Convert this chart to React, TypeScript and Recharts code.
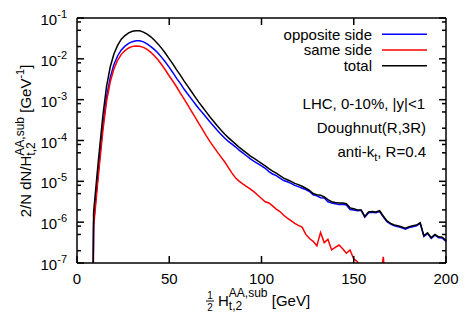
import React from 'react'
import { LineChart, Line, XAxis, YAxis } from 'recharts'

// half of H_t,2 (GeV)
const energies = [
  8, 9, 10, 11, 12, 14, 16, 18, 20, 22,
  24, 26, 28, 30, 32, 34, 36, 38, 40, 42,
  44, 46, 48, 50, 52, 54, 56, 58, 60, 62,
  64, 66, 68, 70, 72, 74, 76, 78, 80, 82,
  84, 86, 88, 90, 92, 94, 96, 98, 100, 102,
  104, 106, 108, 110, 112, 114, 116, 118, 120, 122,
  124, 126, 128, 130, 132, 134, 136, 138, 140, 142,
  144, 146, 148, 150, 152, 154, 156, 158, 160, 162,
  164, 166, 168, 170, 172, 174, 176, 178, 180, 182,
  184, 186, 188, 190, 192, 194, 196, 198, 200,
]

// values as log10 of 2/N dN/dH
const totalExp = [
  -12, -5.75, -5.26, -4.77, -4.3, -3.4, -2.68, -2.2, -1.88, -1.67,
  -1.52, -1.43, -1.365, -1.325, -1.31, -1.315, -1.345, -1.395, -1.46, -1.545,
  -1.64, -1.75, -1.87, -2.0, -2.13, -2.27, -2.4, -2.54, -2.67, -2.8,
  -2.93, -3.06, -3.18, -3.3, -3.42, -3.53, -3.64, -3.74, -3.84, -3.93,
  -4.01, -4.09, -4.17, -4.24, -4.31, -4.38, -4.44, -4.5, -4.56, -4.62,
  -4.69, -4.75, -4.8, -4.86, -4.92, -4.96, -5.0, -5.05, -5.08, -5.12,
  -5.17, -5.22, -5.3, -5.33, -5.34, -5.38, -5.45, -5.5, -5.52, -5.53,
  -5.53, -5.55, -5.65, -5.67, -5.7, -5.7, -5.86, -5.75, -5.74, -5.75,
  -5.72, -5.85, -5.97, -6.03, -6.07, -6.09, -6.12, -6.15, -6.11, -6.09,
  -6.07, -6.01, -6.33, -6.26, -6.38, -6.3, -6.36, -6.37, -6.45,
]

const oppositeExp = [
  -12, -6.01, -5.52, -5.03, -4.56, -3.66, -2.94, -2.46, -2.14, -1.93,
  -1.78, -1.69, -1.62, -1.58, -1.555, -1.56, -1.585, -1.635, -1.7, -1.775,
  -1.865, -1.97, -2.085, -2.21, -2.34, -2.48, -2.6, -2.74, -2.86, -2.98,
  -3.1, -3.215, -3.32, -3.43, -3.54, -3.645, -3.75, -3.845, -3.94, -4.02,
  -4.09, -4.16, -4.24, -4.31, -4.38, -4.45, -4.51, -4.565, -4.62, -4.68,
  -4.76, -4.82, -4.86, -4.92, -4.98, -5.01, -5.05, -5.1, -5.13, -5.17,
  -5.2, -5.25, -5.33, -5.355, -5.4, -5.41, -5.5, -5.53, -5.55, -5.57,
  -5.56, -5.58, -5.69, -5.7, -5.72, -5.71, -5.88, -5.77, -5.76, -5.77,
  -5.74, -5.87, -5.99, -6.05, -6.09, -6.11, -6.14, -6.17, -6.13, -6.11,
  -6.09, -6.03, -6.35, -6.28, -6.4, -6.32, -6.38, -6.39, -6.47,
]

const sameExp = [
  -12, -6.12, -5.63, -5.14, -4.67, -3.77, -3.05, -2.57, -2.25, -2.04,
  -1.89, -1.8, -1.735, -1.695, -1.686, -1.69, -1.72, -1.77, -1.84, -1.93,
  -2.03, -2.15, -2.28, -2.42, -2.55, -2.69, -2.84, -2.98, -3.13, -3.28,
  -3.43, -3.58, -3.73, -3.88, -4.02, -4.15, -4.28, -4.4, -4.52, -4.66,
  -4.8, -4.92, -5.0, -5.07, -5.13, -5.19, -5.26, -5.34, -5.42, -5.5,
  -5.53, -5.6, -5.68, -5.74, -5.83, -5.9, -5.96, -6.03, -6.08, -6.12,
  -6.3, -6.4, -6.47, -6.58, -6.25, -6.5, -6.42, -6.68, -6.62, -6.56,
  -6.65, -6.76, -6.68, -6.9, -6.97, -7.2, -7.6, -8.2, -9, -9,
  -7.6, -6.85, -7.8, -9, -9, -9, -9, -9, -9, -9,
  -9, -9, -9, -9, -9, -9, -9, -9, -9,
]

const xTicks = [0, 50, 100, 150, 200]
const yMajorTicks = [1e-7, 1e-6, 1e-5, 1e-4, 1e-3, 1e-2, 1e-1]
const yMinorSteps = [2, 5, 8]

const legendItems = [
  { key: 'opposite', label: 'opposite side', color: '#0000ff' },
  { key: 'same', label: 'same side', color: '#ff0000' },
  { key: 'total', label: 'total', color: '#000000' },
]

const FONT = '"Liberation Sans", Arial, Helvetica, sans-serif'

const data = energies.map((e, i) => ({
  e,
  total: 10 ** totalExp[i],
  opposite: 10 ** oppositeExp[i],
  same: 10 ** sameExp[i],
}))

const yTicks = [
  ...yMajorTicks,
  ...yMajorTicks.slice(0, -1).flatMap((m) => yMinorSteps.map((s) => s * m)),
].sort((a, b) => a - b)

const isMajor = (v: number) => yMajorTicks.includes(v)

function BottomTick({ x, y, payload }: any) {
  return (
    <g>
      <line x1={x} y1={y} x2={x} y2={y - 7} stroke="#000" strokeWidth={1.5} />
      <text x={x} y={y + 21} textAnchor="middle" fontSize={15} fontFamily={FONT} fill="#000">
        {payload.value}
      </text>
    </g>
  )
}

function TopTick({ x, y }: any) {
  return <line x1={x} y1={y} x2={x} y2={y + 7} stroke="#000" strokeWidth={1.5} />
}

function LeftTick({ x, y, payload }: any) {
  const major = isMajor(payload.value)
  const exp = Math.round(Math.log10(payload.value))
  return (
    <g>
      <line x1={x} y1={y} x2={x + (major ? 7 : 4)} y2={y} stroke="#000" strokeWidth={1.5} />
      {major && (
        <text x={x - 10} y={y + 7} textAnchor="end" fontSize={15} fontFamily={FONT} fill="#000">
          10
          <tspan dy={-7} fontSize={11}>{exp}</tspan>
        </text>
      )}
    </g>
  )
}

function RightTick({ x, y, payload }: any) {
  const major = isMajor(payload.value)
  return <line x1={x} y1={y} x2={x - (major ? 7 : 4)} y2={y} stroke="#000" strokeWidth={1.5} />
}

export default function App() {
  return (
    <div style={{ position: 'absolute', left: 0, top: 0, background: '#fff' }}>
      <LineChart width={470} height={329} data={data} margin={{ top: 17, right: 23, bottom: 0, left: 0 }}>
        <XAxis
          xAxisId="bottom"
          dataKey="e"
          type="number"
          domain={[0, 200]}
          ticks={xTicks}
          interval={0}
          height={66}
          tickSize={0}
          tickMargin={0}
          tickLine={false}
          axisLine={{ stroke: '#000', strokeWidth: 1.5 }}
          tick={<BottomTick />}
        />
        <XAxis
          xAxisId="top"
          orientation="top"
          dataKey="e"
          type="number"
          domain={[0, 200]}
          ticks={xTicks.slice(1, -1)}
          interval={0}
          height={1}
          tickSize={0}
          tickMargin={0}
          tickLine={false}
          axisLine={{ stroke: '#000', strokeWidth: 1.5 }}
          tick={<TopTick />}
        />
        <YAxis
          yAxisId="left"
          scale="log"
          type="number"
          domain={[1e-7, 1e-1]}
          allowDataOverflow
          ticks={yTicks}
          interval={0}
          width={77}
          tickSize={0}
          tickMargin={0}
          tickLine={false}
          axisLine={{ stroke: '#000', strokeWidth: 1.5 }}
          tick={<LeftTick />}
        />
        <YAxis
          yAxisId="right"
          orientation="right"
          scale="log"
          type="number"
          domain={[1e-7, 1e-1]}
          allowDataOverflow
          ticks={yTicks}
          interval={0}
          width={1}
          tickSize={0}
          tickMargin={0}
          tickLine={false}
          axisLine={{ stroke: '#000', strokeWidth: 1.5 }}
          tick={<RightTick />}
        />
        {legendItems.map((item) => (
          <Line
            key={item.key}
            xAxisId="bottom"
            yAxisId="left"
            type="linear"
            dataKey={item.key}
            stroke={item.color}
            strokeWidth={1.5}
            dot={false}
            isAnimationActive={false}
          />
        ))}

        <g fontFamily={FONT} fill="#000">
          {legendItems.map((item, i) => (
            <g key={item.key}>
              <text x={372} y={39.5 + i * 15.7} textAnchor="end" fontSize={15}>
                {item.label}
              </text>
              <line x1={382} x2={427} y1={34.3 + i * 15.7} y2={34.3 + i * 15.7} stroke={item.color} strokeWidth={1.5} />
            </g>
          ))}
          <text x={425} y={109} textAnchor="end" fontSize={15}>LHC, 0-10%, |y|&lt;1</text>
          <text x={426} y={133} textAnchor="end" fontSize={15}>Doughnut(R,3R)</text>
          <text x={426} y={157} textAnchor="end" fontSize={15}>
            anti-k<tspan dy={4} fontSize={11}>t</tspan>
            <tspan dy={-4}>, R=0.4</tspan>
          </text>

          <text x={210} y={298.5} textAnchor="middle" fontSize={10}>1</text>
          <line x1={206} x2={214} y1={301} y2={301} stroke="#000" strokeWidth={1} />
          <text x={210} y={311} textAnchor="middle" fontSize={10}>2</text>
          <text x={218} y={306} fontSize={15}>
            H<tspan dy={-9} fontSize={12}>AA,sub</tspan>
            <tspan dx={-38.7} dy={13} fontSize={12}>t,2</tspan>
            <tspan dx={25.4} dy={-4}>{' [GeV]'}</tspan>
          </text>

          <text transform="translate(30.5,141) rotate(-90)" textAnchor="middle" fontSize={15}>
            2/N dN/H<tspan dy={-7} fontSize={12}>AA,sub</tspan>
            <tspan dx={-38.7} dy={11} fontSize={12}>t,2</tspan>
            <tspan dx={25.4} dy={-4}>{' [GeV'}</tspan>
            <tspan dy={-7} fontSize={11}>-1</tspan>
            <tspan dy={7}>]</tspan>
          </text>
        </g>
      </LineChart>
    </div>
  )
}
